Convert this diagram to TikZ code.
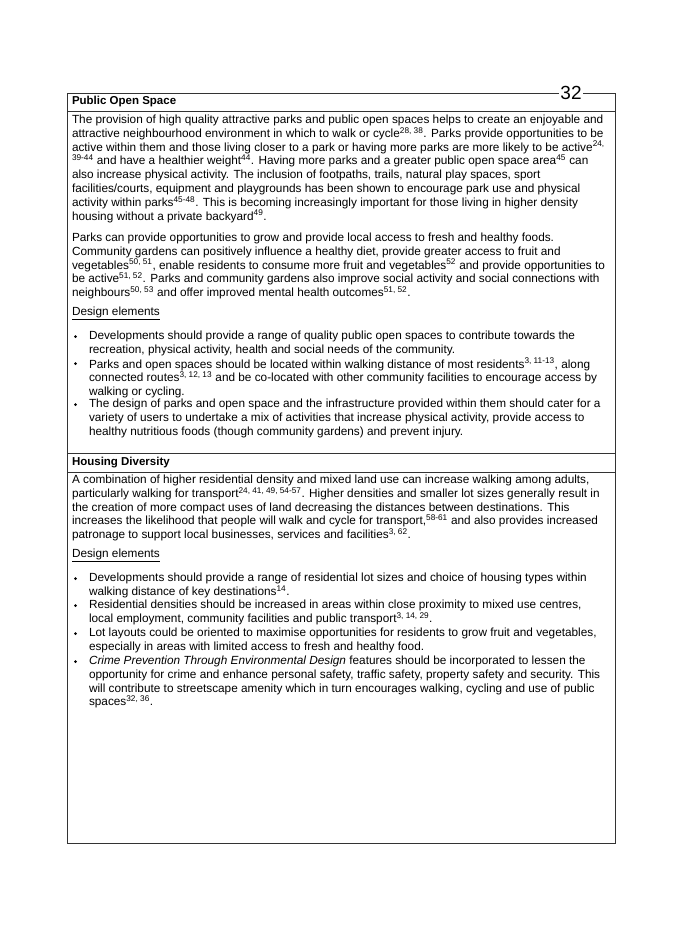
\documentclass[tikz,border=0pt]{standalone}
\usepackage{fontspec}
\setmainfont{Liberation Sans}
\usetikzlibrary{positioning}
\newcommand{\sref}[1]{\textsuperscript{#1}}
\tikzset{
    every node/.style={inner sep=0pt, outer sep=0pt},
    body/.style={anchor=north west, align=left, font=\fontsize{11.8}{13.8}\selectfont},  % paragraph text
    head/.style={anchor=west, font=\bfseries\fontsize{11.5}{12}\selectfont},              % section headings
    frame/.style={line width=0.8pt, black!80},
}
\begin{document}
\begin{tikzpicture}[x=1pt, y=-1pt]
\useasboundingbox (0,0) rectangle (675,948);

% outer box and header rules
\draw[frame] (67,93) rectangle (615,843);
\draw[frame] (67,111) -- (615,111);
\draw[frame] (67,453) -- (615,453);
\draw[frame] (67,472) -- (615,472);
\node[fill=white, inner sep=1pt, font=\fontsize{19}{19}\selectfont] (pagenum) at (571,93) {32};

% Public Open Space
\node[head] (pos_title) at (72,102) {Public Open Space};
\node[body] (pos_para1) at (72,115) {The provision of high quality attractive parks and public open spaces helps to create an enjoyable and\\
attractive neighbourhood environment in which to walk or cycle\sref{28, 38}. Parks provide opportunities to be\\
active within them and those living closer to a park or having more parks are more likely to be active\sref{24,}\\
\sref{39-44} and have a healthier weight\sref{44}. Having more parks and a greater public open space area\sref{45} can\\
also increase physical activity. The inclusion of footpaths, trails, natural play spaces, sport\\
facilities/courts, equipment and playgrounds has been shown to encourage park use and physical\\
activity within parks\sref{45-48}. This is becoming increasingly important for those living in higher density\\
housing without a private backyard\sref{49}.};
\node[body] (pos_para2) at (72,233) {Parks can provide opportunities to grow and provide local access to fresh and healthy foods.\\
Community gardens can positively influence a healthy diet, provide greater access to fruit and\\
vegetables\sref{50, 51}, enable residents to consume more fruit and vegetables\sref{52} and provide opportunities to\\
be active\sref{51, 52}. Parks and community gardens also improve social activity and social connections with\\
neighbours\sref{50, 53} and offer improved mental health outcomes\sref{51, 52}.};
\node[body] (pos_design) at (72,307) {\underline{Design elements}};
\node[body] (pos_b1) at (89,331) {Developments should provide a range of quality public open spaces to contribute towards the\\
recreation, physical activity, health and social needs of the community.};
\node[body] (pos_b2) at (89,358) {Parks and open spaces should be located within walking distance of most residents\sref{3, 11-13}, along\\
connected routes\sref{3, 12, 13} and be co-located with other community facilities to encourage access by\\
walking or cycling.};
\node[body] (pos_b3) at (89,399) {The design of parks and open space and the infrastructure provided within them should cater for a\\
variety of users to undertake a mix of activities that increase physical activity, provide access to\\
healthy nutritious foods (though community gardens) and prevent injury.};

% Housing Diversity
\node[head] (hd_title) at (72,463) {Housing Diversity};
\node[body] (hd_para1) at (72,475) {A combination of higher residential density and mixed land use can increase walking among adults,\\
particularly walking for transport\sref{24, 41, 49, 54-57}. Higher densities and smaller lot sizes generally result in\\
the creation of more compact uses of land decreasing the distances between destinations. This\\
increases the likelihood that people will walk and cycle for transport,\sref{58-61} and also provides increased\\
patronage to support local businesses, services and facilities\sref{3, 62}.};
\node[body] (hd_design) at (72,549) {\underline{Design elements}};
\node[body] (hd_b1) at (89,573) {Developments should provide a range of residential lot sizes and choice of housing types within\\
walking distance of key destinations\sref{14}.};
\node[body] (hd_b2) at (89,600) {Residential densities should be increased in areas within close proximity to mixed use centres,\\
local employment, community facilities and public transport\sref{3, 14, 29}.};
\node[body] (hd_b3) at (89,628) {Lot layouts could be oriented to maximise opportunities for residents to grow fruit and vegetables,\\
especially in areas with limited access to fresh and healthy food.};
\node[body] (hd_b4) at (89,656) {\textit{Crime Prevention Through Environmental Design} features should be incorporated to lessen the\\
opportunity for crime and enhance personal safety, traffic safety, property safety and security. This\\
will contribute to streetscape amenity which in turn encourages walking, cycling and use of public\\
spaces\sref{32, 36}.};

% bullets
\foreach \b in {pos_b1, pos_b2, pos_b3, hd_b1, hd_b2, hd_b3, hd_b4}
    \fill ([xshift=-13.5pt, yshift=-5.5pt]\b.north west) circle (1.5pt);
\end{tikzpicture}
\end{document}
